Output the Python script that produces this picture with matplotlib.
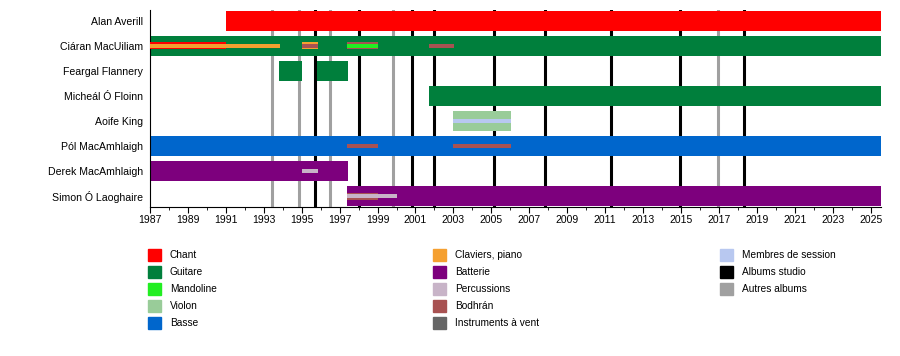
import matplotlib.pyplot as plt
from matplotlib.patches import Rectangle

plt.rcParams['font.family'] = ['Liberation Sans', 'DejaVu Sans']

END = 2025.55

members = ['Alan Averill', 'Ciáran MacUiliam', 'Feargal Flannery', 'Micheál Ó Floinn',
           'Aoife King', 'Pól MacAmhlaigh', 'Derek MacAmhlaigh', 'Simon Ó Laoghaire']

colors = {
    'Chant': '#ff0000',
    'Guitare': '#007f3c',
    'Mandoline': '#22ee22',
    'Violon': '#99cc99',
    'Basse': '#0066cc',
    'Claviers, piano': '#f5a030',
    'Batterie': '#7d007d',
    'Percussions': '#c8b4c8',
    'Bodhrán': '#a85252',
    'Instruments à vent': '#666666',
    'Membres de session': '#b8c8f0',
    'Albums studio': '#000000',
    'Autres albums': '#a0a0a0',
}

# (membre, début, fin, rôle) : barres principales
main_bars = [
    ('Alan Averill', 1991.0, END, 'Chant'),
    ('Ciáran MacUiliam', 1987.0, END, 'Guitare'),
    ('Feargal Flannery', 1993.8, 1995.0, 'Guitare'),
    ('Feargal Flannery', 1995.8, 1997.45, 'Guitare'),
    ('Micheál Ó Floinn', 2001.7, END, 'Guitare'),
    ('Aoife King', 2003.0, 2006.05, 'Violon'),
    ('Pól MacAmhlaigh', 1987.0, END, 'Basse'),
    ('Derek MacAmhlaigh', 1987.0, 1997.45, 'Batterie'),
    ('Simon Ó Laoghaire', 1997.4, END, 'Batterie'),
]

# barres secondaires (larges)
mid_bars = [
    ('Ciáran MacUiliam', 1987.0, 1991.0, 'Chant'),
    ('Ciáran MacUiliam', 1995.0, 1995.87, 'Claviers, piano'),
    ('Ciáran MacUiliam', 1997.4, 1999.02, 'Bodhrán'),
    ('Simon Ó Laoghaire', 1997.4, 1999.02, 'Bodhrán'),
]

# barres fines
thin_bars = [
    ('Ciáran MacUiliam', 1987.0, 1993.86, 'Claviers, piano'),
    ('Ciáran MacUiliam', 1995.0, 1995.87, 'Bodhrán'),
    ('Ciáran MacUiliam', 1997.4, 1999.02, 'Mandoline'),
    ('Ciáran MacUiliam', 2001.7, 2003.04, 'Bodhrán'),
    ('Aoife King', 2003.0, 2006.05, 'Membres de session'),
    ('Pól MacAmhlaigh', 1997.4, 1999.02, 'Bodhrán'),
    ('Pól MacAmhlaigh', 2003.0, 2006.05, 'Bodhrán'),
    ('Derek MacAmhlaigh', 1995.0, 1995.87, 'Percussions'),
    ('Simon Ó Laoghaire', 1997.4, 2000.0, 'Percussions'),
]

studio_albums = [1995.71, 1998.03, 2000.84, 2001.99, 2005.12, 2007.84, 2011.33, 2014.93, 2018.33]
other_albums = [1993.45, 1994.88, 1996.51, 1999.84, 2016.94]

legend_cols = [
    ['Chant', 'Guitare', 'Mandoline', 'Violon', 'Basse'],
    ['Claviers, piano', 'Batterie', 'Percussions', 'Bodhrán', 'Instruments à vent'],
    ['Membres de session', 'Albums studio', 'Autres albums'],
]

fig = plt.figure(figsize=(9, 3.56), dpi=100)
W, H = 900, 356
ax = fig.add_axes([150 / W, 1 - 207 / H, 731 / W, 197 / H])

row = {m: i for i, m in enumerate(members)}

for x in other_albums:
    ax.axvline(x, color=colors['Autres albums'], lw=2.2, zorder=1)
for x in studio_albums:
    ax.axvline(x, color=colors['Albums studio'], lw=2.2, zorder=1)

for m, s, e, r in main_bars:
    ax.barh(row[m], e - s, left=s, height=0.8, color=colors[r], zorder=2)
for m, s, e, r in mid_bars:
    ax.barh(row[m], e - s, left=s, height=0.28, color=colors[r], zorder=3)
for m, s, e, r in thin_bars:
    ax.barh(row[m], e - s, left=s, height=0.16, color=colors[r], zorder=4)

ax.set_xlim(1987, END)
ax.set_ylim(7.42, -0.43)
ax.set_yticks(range(len(members)))
ax.set_yticklabels(members, fontsize=7.6)
ax.tick_params(axis='y', length=0, pad=5)
ax.set_xticks(range(1987, 2026, 2))
ax.set_xticks(range(1988, 2026, 2), minor=True)
ax.tick_params(axis='x', which='major', length=4, labelsize=7.5, pad=2)
ax.tick_params(axis='x', which='minor', length=2.5)
for sp in ['top', 'right']:
    ax.spines[sp].set_visible(False)

# légende
col_x = [148, 433, 720]
for cx, labels in zip(col_x, legend_cols):
    for j, lab in enumerate(labels):
        cy = 255 + j * 17
        fig.patches.append(Rectangle((cx / W, 1 - (cy + 6) / H), 13 / W, 12 / H,
                                     transform=fig.transFigure, color=colors[lab]))
        fig.text((cx + 22) / W, 1 - cy / H, lab, fontsize=7.3, va='center', ha='left')

fig.savefig('out.png', dpi=100)
